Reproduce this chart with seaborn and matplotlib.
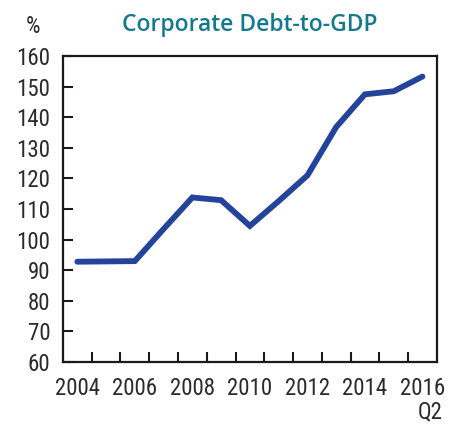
import matplotlib
matplotlib.use("Agg")
import matplotlib.pyplot as plt
from matplotlib import font_manager
from matplotlib.ticker import FixedLocator, NullFormatter
import seaborn as sns
import pandas as pd

# Corporate debt as a share of GDP, annual (last point 2016 Q2)
years = [2004, 2005, 2006, 2007, 2008, 2009, 2010, 2011, 2012, 2013, 2014, 2015, 2016]
debt_to_gdp = [92.8, 92.9, 93.0, 103.5, 113.8, 112.9, 104.5, 112.6, 121.0, 136.8, 147.5, 148.5, 153.3]
label_years = [2004, 2006, 2008, 2010, 2012, 2014, 2016]
y_ticks = [60, 70, 80, 90, 100, 110, 120, 130, 140, 150, 160]

df = pd.DataFrame({"year": years, "value": debt_to_gdp})

# pick a narrow face for the axis text if one is installed
installed = {(f.name, f.stretch) for f in font_manager.fontManager.ttflist}
names = {n for n, _ in installed}
axis_family, axis_stretch = "Roboto", "normal"
for cand in ["Liberation Sans Narrow", "Arial Narrow", "Roboto Condensed", "Open Sans Condensed"]:
    if cand in names:
        axis_family = cand
        break
else:
    for n, st in installed:
        if n in ("DejaVu Sans", "Noto Sans", "Open Sans", "Roboto") and st in ("condensed", "semi-condensed", 700, 600, 500):
            axis_family, axis_stretch = n, st
            break

sns.set_style("white")
plt.rcParams["font.family"] = [axis_family, "DejaVu Sans"]
plt.rcParams["font.stretch"] = axis_stretch

fig = plt.figure(figsize=(4.56, 4.28), dpi=100)
ax = fig.add_axes([0.138, 0.154, 0.820, 0.715])

sns.lineplot(data=df, x="year", y="value", ax=ax, color="#23449A",
             linewidth=4.2, solid_joinstyle="miter")

ax.set_xlim(years[0] - 0.5, years[-1] + 0.5)
ax.set_ylim(60, 160)
ax.set_xlabel("")
ax.set_ylabel("")

# tick marks between years, labels centred on the years
ax.xaxis.set_major_locator(FixedLocator([y + 0.5 for y in years[:-1]]))
ax.xaxis.set_major_formatter(NullFormatter())
ax.xaxis.set_minor_locator(FixedLocator(label_years))
ax.set_xticklabels([str(y) for y in label_years], minor=True)
ax.tick_params(axis="x", which="major", direction="in", length=7, width=1.5,
               color="#1a1a1a", bottom=True, top=False)
ax.tick_params(axis="x", which="minor", length=0, pad=11, labelsize=16.5,
               labelcolor="#2b2b2b")

ax.set_yticks(y_ticks)
ax.tick_params(axis="y", direction="in", length=7, width=1.5, color="#1a1a1a",
               left=True, right=False, pad=9, labelsize=16.5, labelcolor="#2b2b2b")

for s in ax.spines.values():
    s.set_visible(True)
    s.set_linewidth(1.6)
    s.set_color("#1a1a1a")

fig.text(0.072, 0.924, "%", ha="center", va="baseline", fontsize=16.5, color="#2b2b2b")
fig.text(0.971, 0.022, "Q2", ha="right", va="baseline", fontsize=16.5, color="#2b2b2b")
fig.text(0.548, 0.928, "Corporate Debt-to-GDP", ha="center", va="baseline",
         fontsize=16.5, fontweight="semibold", color="#137A8E",
         family=["Open Sans", "DejaVu Sans"], fontstretch="normal")

fig.savefig("out.png", dpi=100)
